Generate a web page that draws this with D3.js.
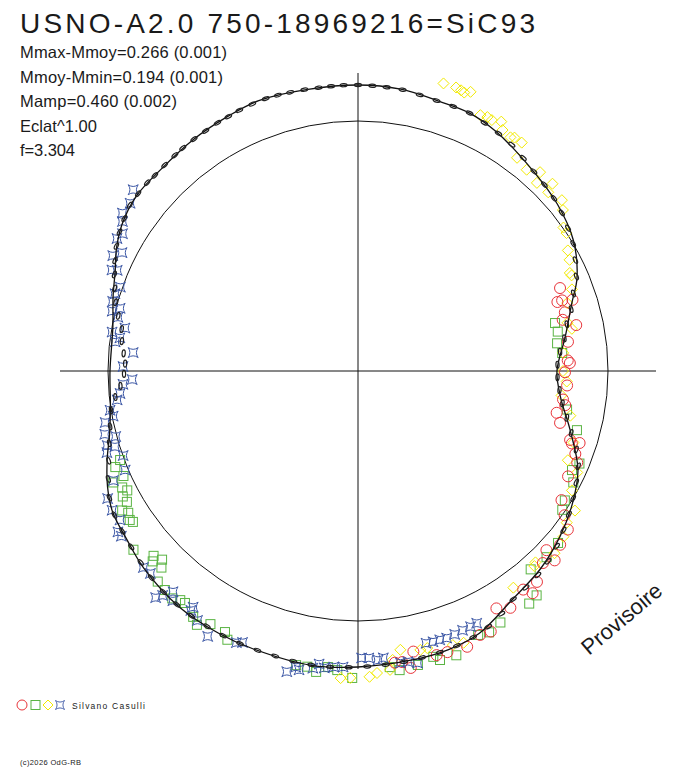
<!DOCTYPE html>
<html>
<head>
<meta charset="utf-8">
<script src="https://cdn.jsdelivr.net/npm/d3@7"></script>
<style>
  body { margin: 0; background: #fff; }
  svg { display: block; }
  text { font-family: "Liberation Sans", Arial, sans-serif; fill: #1a1a1a; }
</style>
</head>
<body>
<svg id="chart"></svg>
<script>
// header texts
const title = "USNO-A2.0 750-18969216=SiC93";
const infoLines = ["Mmax-Mmoy=0.266 (0.001)", "Mmoy-Mmin=0.194 (0.001)", "Mamp=0.460 (0.002)", "Eclat^1.00", "f=3.304"];
const observer = "Silvano Casulli";

// fitted light curve knots: [phase, delta mag (outward = brighter)]
const fitCurve = [
  [0.000, 0.180], [0.024, 0.175], [0.047, 0.158], [0.065, 0.155], [0.083, 0.132],
  [0.114, 0.080], [0.139, 0.050],
  [0.163, 0.010], [0.186, -0.060], [0.201, -0.128], [0.224, -0.200], [0.250, -0.255],
  [0.270, -0.230], [0.293, -0.150], [0.317, -0.045], [0.338, 0.010], [0.359, 0.055],
  [0.381, 0.095], [0.406, 0.130], [0.431, 0.195], [0.450, 0.215], [0.469, 0.220],
  [0.500, 0.230], [0.525, 0.240], [0.558, 0.235], [0.578, 0.235], [0.603, 0.230],
  [0.632, 0.205], [0.650, 0.180], [0.667, 0.165], [0.681, 0.130], [0.696, 0.080],
  [0.711, 0.030], [0.728, 0.000], [0.750, -0.010], [0.778, -0.005], [0.797, 0.030],
  [0.811, 0.060], [0.825, 0.105], [0.839, 0.140], [0.856, 0.162], [0.878, 0.160],
  [0.901, 0.170], [0.925, 0.180], [0.944, 0.190], [0.972, 0.180]
];

// black mean points
const blackPts = [
  [0.850, 0.160], [0.858, 0.162], [0.866, 0.163], [0.872, 0.160], [0.880, 0.162], [0.888, 0.165],
  [0.894, 0.168], [0.902, 0.170], [0.910, 0.172], [0.918, 0.176], [0.925, 0.178], [0.932, 0.182],
  [0.940, 0.186], [0.948, 0.188], [0.955, 0.186], [0.962, 0.184], [0.970, 0.182], [0.978, 0.180],
  [0.985, 0.180], [0.992, 0.181], [0.000, 0.180], [0.008, 0.178], [0.016, 0.176], [0.025, 0.174],
  [0.035, 0.165], [0.045, 0.158], [0.055, 0.156], [0.065, 0.155], [0.075, 0.142], [0.085, 0.130],
  [0.095, 0.118], [0.105, 0.098], [0.115, 0.080], [0.125, 0.068], [0.135, 0.056], [0.145, 0.040],
  [0.155, 0.020], [0.165, 0.000], [0.175, -0.030], [0.185, -0.060], [0.195, -0.105], [0.205, -0.140],
  [0.215, -0.180], [0.225, -0.205], [0.235, -0.235], [0.245, -0.252], [0.255, -0.252], [0.265, -0.238],
  [0.275, -0.215], [0.285, -0.180], [0.295, -0.140], [0.305, -0.090], [0.315, -0.050], [0.325, -0.025],
  [0.335, 0.000], [0.345, 0.025], [0.355, 0.050], [0.365, 0.075], [0.375, 0.095], [0.385, 0.110],
  [0.395, 0.120], [0.405, 0.130], [0.415, 0.160], [0.425, 0.185], [0.435, 0.200], [0.445, 0.210],
  [0.455, 0.215], [0.465, 0.218], [0.475, 0.222], [0.485, 0.225], [0.495, 0.228], [0.505, 0.232],
  [0.515, 0.236], [0.525, 0.238], [0.535, 0.236], [0.545, 0.234], [0.555, 0.234], [0.565, 0.235],
  [0.575, 0.235], [0.585, 0.233], [0.595, 0.231], [0.605, 0.228], [0.615, 0.222], [0.625, 0.212],
  [0.635, 0.198], [0.645, 0.185], [0.655, 0.175], [0.665, 0.165], [0.675, 0.145], [0.685, 0.110],
  [0.695, 0.075], [0.705, 0.045], [0.715, 0.020], [0.725, 0.000], [0.733, -0.030], [0.740, -0.060],
  [0.748, -0.080], [0.755, -0.085], [0.762, -0.075], [0.770, -0.060], [0.778, -0.050], [0.786, -0.020],
  [0.794, 0.010], [0.802, 0.035], [0.810, 0.060], [0.818, 0.085], [0.826, 0.110], [0.834, 0.130],
  [0.842, 0.145]
];

// observer series (circle, square, diamond, star)
const redPts = [
  [0.188, -0.158], [0.197, -0.170], [0.197, -0.195], [0.199, -0.120], [0.206, -0.175], [0.211, -0.195],
  [0.217, -0.135], [0.228, -0.190], [0.242, -0.200], [0.244, -0.190], [0.251, -0.215], [0.261, -0.202],
  [0.272, -0.215], [0.276, -0.200], [0.283, -0.235], [0.290, -0.207], [0.300, -0.085], [0.300, -0.135],
  [0.302, -0.121], [0.308, -0.087], [0.313, -0.062], [0.324, -0.075], [0.340, -0.045], [0.347, 0.010],
  [0.353, 0.065], [0.363, 0.083], [0.371, 0.050], [0.372, 0.115], [0.378, 0.083], [0.388, 0.133],
  [0.394, 0.163], [0.397, 0.120], [0.409, 0.158], [0.416, 0.124], [0.425, 0.212], [0.431, 0.204],
  [0.440, 0.233], [0.451, 0.225], [0.457, 0.224], [0.469, 0.180], [0.472, 0.258], [0.476, 0.222],
  [0.480, 0.220]
];
const greenPts = [
  [0.212, -0.236], [0.219, -0.232], [0.228, -0.245], [0.236, -0.225], [0.279, -0.187], [0.292, -0.116],
  [0.313, -0.050], [0.319, -0.071], [0.326, -0.038], [0.339, -0.030], [0.345, -0.015], [0.363, 0.069],
  [0.374, 0.075], [0.386, 0.065], [0.393, 0.184], [0.399, 0.194], [0.418, 0.195], [0.426, 0.212],
  [0.432, 0.200], [0.447, 0.254], [0.456, 0.252], [0.459, 0.228], [0.468, 0.250], [0.478, 0.260],
  [0.483, 0.239], [0.503, 0.285], [0.511, 0.249], [0.516, 0.238], [0.522, 0.269], [0.527, 0.250],
  [0.533, 0.253], [0.572, 0.244], [0.575, 0.215], [0.584, 0.215], [0.590, 0.253], [0.594, 0.230],
  [0.602, 0.197], [0.605, 0.200], [0.609, 0.218], [0.615, 0.210], [0.621, 0.203], [0.625, 0.140],
  [0.628, 0.110], [0.631, 0.150], [0.633, 0.128], [0.643, 0.185], [0.656, 0.105], [0.658, 0.113],
  [0.662, 0.100], [0.665, 0.120], [0.668, 0.078], [0.672, 0.083], [0.674, 0.049], [0.677, 0.065],
  [0.682, 0.095], [0.683, 0.035], [0.690, 0.055], [0.693, 0.020]
];
const yellowPts = [
  [0.046, 0.250], [0.053, 0.250], [0.056, 0.245], [0.058, 0.240], [0.061, 0.255], [0.071, 0.168],
  [0.075, 0.175], [0.078, 0.172], [0.083, 0.188], [0.086, 0.155], [0.092, 0.145], [0.094, 0.155],
  [0.099, 0.155], [0.102, 0.080], [0.111, 0.063], [0.118, 0.098], [0.121, 0.048], [0.128, 0.100],
  [0.130, 0.055], [0.139, 0.080], [0.144, 0.053], [0.153, 0.003], [0.157, 0.000], [0.167, -0.040],
  [0.173, -0.055], [0.181, -0.083], [0.183, -0.080], [0.192, -0.105], [0.200, -0.150], [0.214, -0.175],
  [0.219, -0.160], [0.236, -0.220], [0.250, -0.225], [0.258, -0.205], [0.269, -0.225], [0.283, -0.165],
  [0.301, -0.115], [0.314, -0.110], [0.319, -0.042], [0.331, -0.025], [0.341, 0.040], [0.350, 0.040],
  [0.358, 0.070], [0.369, 0.090], [0.381, 0.055], [0.383, 0.065], [0.401, 0.083], [0.441, 0.208],
  [0.447, 0.200], [0.461, 0.178], [0.465, 0.179], [0.476, 0.160], [0.481, 0.205], [0.483, 0.253],
  [0.490, 0.263], [0.494, 0.280], [0.504, 0.285], [0.509, 0.288]
];
const bluePts = [
  [0.858, 0.194], [0.851, 0.165], [0.844, 0.168], [0.840, 0.145], [0.834, 0.113], [0.830, 0.125],
  [0.824, 0.070], [0.820, 0.105], [0.812, 0.080], [0.813, 0.055], [0.804, 0.010], [0.799, 0.025],
  [0.794, 0.025], [0.788, 0.015], [0.791, -0.020], [0.785, -0.020], [0.779, -0.065], [0.775, -0.005],
  [0.772, -0.048], [0.769, -0.027], [0.763, -0.122], [0.753, -0.075], [0.744, -0.120], [0.741, -0.073],
  [0.735, -0.055], [0.731, -0.037], [0.725, 0.005], [0.721, -0.005], [0.718, 0.040], [0.711, 0.055],
  [0.708, 0.005], [0.704, 0.058], [0.702, 0.023], [0.700, 0.070], [0.695, -0.002], [0.686, 0.015],
  [0.683, 0.090], [0.675, 0.155], [0.668, 0.163], [0.661, 0.154], [0.656, 0.195], [0.653, 0.193],
  [0.632, 0.205], [0.627, 0.200], [0.616, 0.269], [0.614, 0.238], [0.611, 0.190], [0.608, 0.225],
  [0.597, 0.210], [0.597, 0.190], [0.591, 0.233], [0.582, 0.275], [0.567, 0.238], [0.564, 0.225],
  [0.537, 0.295], [0.533, 0.263], [0.531, 0.273], [0.524, 0.253], [0.521, 0.228], [0.518, 0.244],
  [0.513, 0.235], [0.508, 0.232], [0.498, 0.185], [0.494, 0.186], [0.489, 0.199], [0.486, 0.190],
  [0.477, 0.225], [0.473, 0.225], [0.468, 0.240], [0.461, 0.153], [0.457, 0.155], [0.453, 0.155],
  [0.449, 0.157], [0.444, 0.153], [0.439, 0.148], [0.434, 0.147], [0.430, 0.144]
];

const width = 688, height = 768;
const cx = 358, cy = 371;

const svg = d3.select('#chart')
  .attr('width', width)
  .attr('height', height);

svg.append('rect').attr('width', width).attr('height', height).attr('fill', '#fff');

// delta mag -> radius, phase -> angle
const r = d3.scaleLinear().domain([0, 0.25]).range([250, 300]);
const a = d3.scaleLinear().domain([0, 1]).range([0, 2 * Math.PI]);
const pos = d => d3.pointRadial(a(d[0]), r(d[1]));

const g = svg.append('g').attr('transform', `translate(${cx},${cy})`);

// axes and mean circle
const axisR = r(0.24);
g.append('line').attr('x1', -axisR).attr('x2', axisR).attr('y1', 0).attr('y2', 0)
  .attr('stroke', '#111').attr('stroke-width', 1);
g.append('line').attr('x1', 0).attr('x2', 0).attr('y1', -axisR).attr('y2', axisR)
  .attr('stroke', '#111').attr('stroke-width', 1);
g.append('circle').attr('r', r(0)).attr('fill', 'none').attr('stroke', '#111').attr('stroke-width', 1);

const colors = { red: '#e8343a', green: '#5ab443', yellow: '#f2ea00', blue: '#3d58a6' };
const starPath = 'M-5,-5Q0,-1.5 5,-5Q1.5,0 5,5Q0,1.5 -5,5Q-1.5,0 -5,-5Z';

// green squares
g.append('g').selectAll('rect').data(greenPts).join('rect')
  .attr('x', d => pos(d)[0] - 4.5).attr('y', d => pos(d)[1] - 4.5)
  .attr('width', 9).attr('height', 9)
  .attr('fill', 'none').attr('stroke', colors.green).attr('stroke-width', 1);

// yellow diamonds
g.append('g').selectAll('path').data(yellowPts).join('path')
  .attr('transform', d => `translate(${pos(d)})`)
  .attr('d', 'M0,-5.5L5.5,0L0,5.5L-5.5,0Z')
  .attr('fill', 'none').attr('stroke', colors.yellow).attr('stroke-width', 1);

// red circles
g.append('g').selectAll('circle').data(redPts).join('circle')
  .attr('cx', d => pos(d)[0]).attr('cy', d => pos(d)[1]).attr('r', 5.5)
  .attr('fill', 'none').attr('stroke', colors.red).attr('stroke-width', 1);

// blue stars
g.append('g').selectAll('path').data(bluePts).join('path')
  .attr('transform', d => `translate(${pos(d)})`)
  .attr('d', starPath)
  .attr('fill', 'none').attr('stroke', colors.blue).attr('stroke-width', 1);

// fitted curve
const fitLine = d3.lineRadial()
  .angle(d => a(d[0]))
  .radius(d => r(d[1]))
  .curve(d3.curveCatmullRomClosed.alpha(0.5));
g.append('path').datum(fitCurve).attr('d', fitLine)
  .attr('fill', 'none').attr('stroke', '#111').attr('stroke-width', 1.3);

// black points (small flattened rings along the curve)
g.append('g').selectAll('ellipse').data(blackPts).join('ellipse')
  .attr('transform', d => `translate(${pos(d)}) rotate(${a(d[0]) * 180 / Math.PI})`)
  .attr('rx', 3.5).attr('ry', 1.6)
  .attr('fill', 'none').attr('stroke', '#222').attr('stroke-width', 1.2);

// header
svg.append('text').attr('x', 20).attr('y', 33)
  .attr('font-size', 28).attr('textLength', 515).attr('lengthAdjust', 'spacing')
  .text(title);

const infoW = [207, 203, 157, 77, 55];
svg.append('g').selectAll('text').data(infoLines).join('text')
  .attr('x', 20).attr('y', (d, i) => 58 + i * 24.6)
  .attr('font-size', 16.5)
  .attr('textLength', (d, i) => infoW[i]).attr('lengthAdjust', 'spacing')
  .text(d => d);

// legend
const lg = svg.append('g').attr('transform', 'translate(0,705)');
lg.append('circle').attr('cx', 22).attr('r', 5).attr('fill', 'none').attr('stroke', colors.red);
lg.append('rect').attr('x', 31).attr('y', -4.5).attr('width', 9).attr('height', 9)
  .attr('fill', 'none').attr('stroke', colors.green);
lg.append('path').attr('transform', 'translate(48,0)').attr('d', 'M0,-5L5,0L0,5L-5,0Z')
  .attr('fill', 'none').attr('stroke', colors.yellow);
lg.append('path').attr('transform', 'translate(60,0) scale(0.9)').attr('d', starPath)
  .attr('fill', 'none').attr('stroke', colors.blue);
lg.append('text').attr('x', 72).attr('y', 3.5).attr('font-size', 8.5)
  .attr('textLength', 73).attr('lengthAdjust', 'spacing').text(observer);

svg.append('text').attr('x', 20).attr('y', 765).attr('font-size', 7.5)
  .attr('textLength', 61).attr('lengthAdjust', 'spacing').text('(c)2026 OdG-RB');

// watermark
svg.append('text')
  .attr('transform', 'translate(589,656) rotate(-40)')
  .attr('font-size', 22)
  .text('Provisoire');
</script>
</body>
</html>
